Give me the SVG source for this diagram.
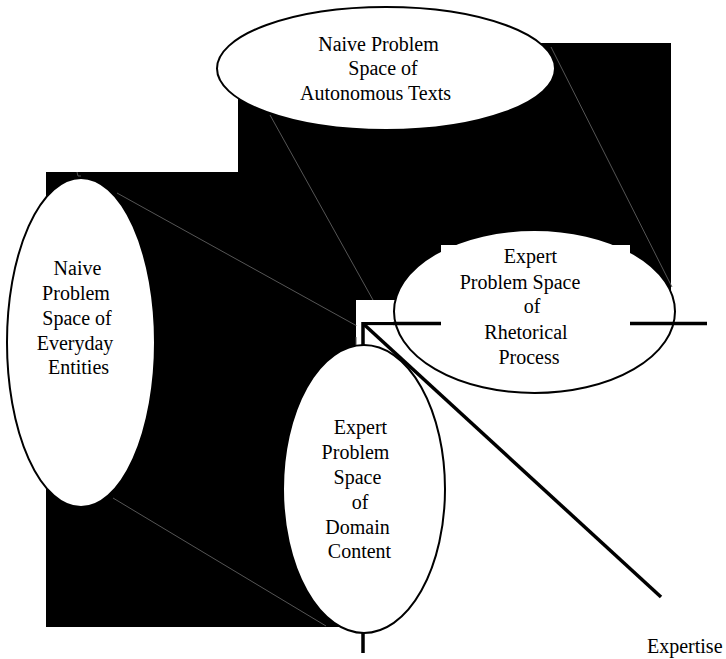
<svg xmlns="http://www.w3.org/2000/svg" width="726" height="659" viewBox="0 0 726 659">
<style>
.bg{fill:#000}
.node{fill:#fff;stroke:#000;stroke-width:2}
.box{fill:#fff}
.faint{stroke:#555;stroke-width:1;fill:none}
.axis{stroke:#000;stroke-width:3.5;fill:none}
text{font-family:"Liberation Serif","Times New Roman",serif;font-size:20px;fill:#000;text-anchor:middle}
</style>
<rect width="726" height="659" fill="#fff"/>
<g id="background">
<rect class="bg" x="238" y="43" width="433" height="257"/>
<rect class="bg" x="46" y="172" width="310" height="455"/>
</g>
<g id="faint-links">
<line class="faint" x1="270" y1="115" x2="373" y2="300"/>
<line class="faint" x1="551" y1="47" x2="672" y2="287"/>
<line class="faint" x1="117" y1="193" x2="357" y2="326"/>
<line class="faint" x1="113" y1="498" x2="326" y2="626"/>
<path class="faint" d="M77 172 L78 176 L81 176"/>
</g>
<g id="node-autonomous-texts">
<ellipse class="node" cx="386" cy="68.5" rx="169" ry="61.5"/>
<text x="378.5" y="51">Naive Problem</text>
<text x="383" y="75">Space of</text>
<text x="375.5" y="100">Autonomous Texts</text>
</g>
<g id="node-everyday-entities">
<ellipse class="node" cx="81" cy="342.5" rx="74" ry="164.5"/>
<text x="77.5" y="275">Naive</text>
<text x="76" y="300">Problem</text>
<text x="77" y="325">Space of</text>
<text x="75" y="350">Everyday</text>
<text x="78.5" y="374">Entities</text>
</g>
<g id="node-rhetorical-ellipse">
<ellipse class="node" cx="534.5" cy="311.5" rx="140.5" ry="81.5"/>
</g>
<g id="connectors">
<line class="axis" x1="363" y1="322" x2="363" y2="653"/>
<line class="axis" x1="363" y1="323.5" x2="707" y2="323.5"/>
</g>
<g id="node-rhetorical-process">
<rect class="box" x="441" y="245" width="189" height="120"/>
<text x="530.5" y="263">Expert</text>
<text x="520" y="289">Problem Space</text>
<text x="532" y="313">of</text>
<text x="526" y="339">Rhetorical</text>
<text x="529" y="364">Process</text>
</g>
<g id="node-domain-content">
<rect class="box" x="356" y="300" width="37" height="22"/>
<rect class="box" x="356" y="325.5" width="5" height="22"/>
<rect class="box" x="365" y="325.5" width="28" height="22"/>
<line class="faint" x1="356" y1="337" x2="356" y2="348"/>
<ellipse class="node" cx="364" cy="489" rx="81" ry="144"/>
<text x="360.5" y="434">Expert</text>
<text x="355.5" y="459">Problem</text>
<text x="357.5" y="484">Space</text>
<text x="360" y="509">of</text>
<text x="357.5" y="534">Domain</text>
<text x="359.5" y="558">Content</text>
</g>
<g id="connector-expertise">
<line class="axis" x1="363" y1="323.5" x2="661" y2="597"/>
</g>
<g id="label-expertise">
<text x="647" y="653" style="text-anchor:start">Expertise</text>
</g>
</svg>
